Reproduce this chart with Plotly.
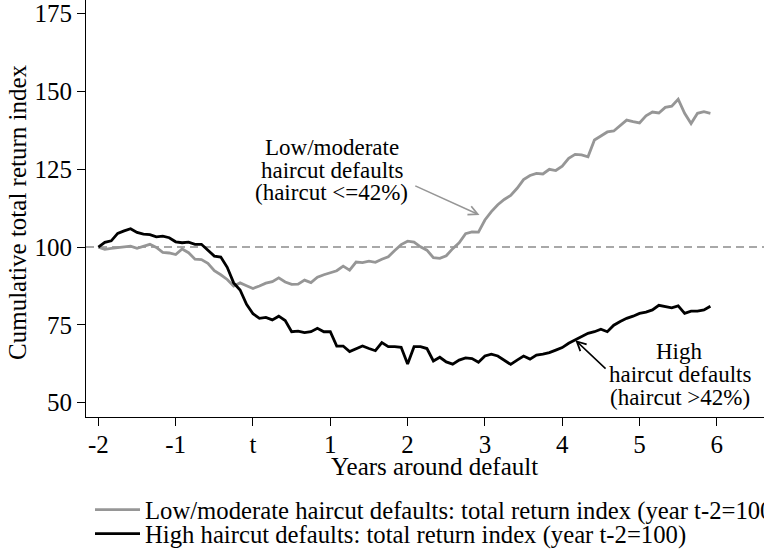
import plotly.graph_objects as go

# monthly observations, year t-2 = 100
years = [-2 + m / 12 for m in range(96)]

low_moderate = [100, 99.3, 99.6, 99.8, 99.9, 100.3, 99.6, 100.3, 100.9, 99.9,
                98.3, 98.1, 97.6, 99.4, 98.2, 96.1, 96.0, 94.8, 92.4, 91.1,
                89.6, 87.5, 88.5, 87.6, 86.7, 87.5, 88.4, 88.9, 90.1, 88.8,
                88.0, 88.1, 89.4, 88.6, 90.3, 91.1, 91.8, 92.4, 93.9, 92.6,
                95.2, 95.0, 95.5, 95.1, 96.1, 96.9, 98.9, 100.8, 101.9, 101.6,
                100.1, 99.0, 96.6, 96.4, 97.2, 99.5, 101.4, 104.3, 104.9, 104.8,
                108.7, 111.4, 113.6, 115.3, 116.6, 118.9, 121.7, 123.0, 123.7, 123.5,
                125.0, 124.6, 126.0, 128.5, 129.8, 129.6, 129.0, 134.4, 135.7, 137.0,
                137.3, 139.2, 140.8, 140.3, 139.9, 142.2, 143.4, 143.1, 144.9, 145.3,
                147.5, 143.0, 139.7, 143.0, 143.5, 143.0]

high = [100, 101.5, 102.0, 104.4, 105.2, 105.9, 104.7, 104.2, 104.0, 103.3,
        103.5, 103.0, 101.7, 101.4, 101.6, 100.9, 100.9, 99.0, 97.1, 96.8,
        93.5, 88.5, 86.2, 81.6, 78.6, 77.1, 77.4, 76.6, 77.8, 76.4,
        72.8, 73.0, 72.5, 72.8, 73.9, 72.8, 72.8, 68.2, 68.2, 66.4,
        67.2, 68.2, 67.4, 66.7, 69.3, 68.0, 68.0, 67.8, 62.4, 68.0,
        68.0, 67.4, 63.4, 64.6, 63.1, 62.4, 63.7, 64.4, 64.2, 63.0,
        65.0, 65.6, 65.0, 63.7, 62.3, 63.7, 65.0, 64.0, 65.3, 65.6,
        66.1, 66.9, 67.7, 69.1, 70.1, 71.3, 72.3, 72.8, 73.6, 72.8,
        74.9, 76.1, 77.1, 77.8, 78.7, 79.1, 79.8, 81.3, 80.9, 80.5,
        81.1, 78.7, 79.4, 79.4, 79.8, 81.0]

tick_vals = [-2, -1, 0, 1, 2, 3, 4, 5, 6]
tick_text = ['-2', '-1', 't', '1', '2', '3', '4', '5', '6']
y_ticks = [50, 75, 100, 125, 150, 175]

FONT = 'Liberation Serif, Times New Roman, serif'
GRAY = '#969696'

fig = go.Figure()

fig.add_trace(go.Scatter(x=years, y=low_moderate, mode='lines',
                         line=dict(color=GRAY, width=2.8),
                         name='Low/moderate haircut defaults: total return index (year t-2=100)',
                         legend='legend'))
fig.add_trace(go.Scatter(x=years, y=high, mode='lines',
                         line=dict(color='black', width=2.8),
                         name='High haircut defaults: total return index (year t-2=100)',
                         legend='legend2'))

# base line at 100
fig.add_hline(y=100, line=dict(color='#a8a8a8', width=2, dash='8px,5px'), layer='below')

# labels next to the lines
for txt, yy in [('Low/moderate', 132.1), ('haircut defaults', 124.7), ('(haircut <=42%)', 117.4)]:
    fig.add_annotation(x=1.02, y=yy, text=txt, showarrow=False,
                       font=dict(family=FONT, size=23, color='black'))
for txt, yy in [('High', 66.5), ('haircut defaults', 59.2), ('(haircut >42%)', 51.7)]:
    fig.add_annotation(x=5.52, y=yy, text=txt, showarrow=False,
                       font=dict(family=FONT, size=23, color='black'))

fig.add_annotation(x=2.93, y=110.3, ax=2.08, ay=119.9, axref='x', ayref='y',
                   text='', showarrow=True, arrowhead=5, arrowsize=1.2,
                   arrowwidth=1.5, arrowcolor=GRAY, standoff=0)
fig.add_annotation(x=4.17, y=70.1, ax=4.58, ay=60.5, axref='x', ayref='y',
                   text='', showarrow=True, arrowhead=5, arrowsize=1.2,
                   arrowwidth=1.5, arrowcolor='black', standoff=0)

# axis titles
fig.add_annotation(x=0.5147, xref='paper', y=-0.1199, yref='paper', text='Years around default',
                   xanchor='center', yanchor='middle', showarrow=False,
                   font=dict(family=FONT, size=25, color='black'))
fig.add_annotation(x=-0.1018, xref='paper', y=0.4916, yref='paper', text='Cumulative total return index',
                   xanchor='center', yanchor='middle', textangle=-90, showarrow=False,
                   font=dict(family=FONT, size=25, color='black'))

fig.update_xaxes(range=[-2.16, 6.61], tickvals=tick_vals, ticktext=tick_text,
                 showline=True, linecolor='black', linewidth=1, ticks='outside',
                 ticklen=8, tickcolor='black', showgrid=False, zeroline=False,
                 ticklabelstandoff=-3,
                 tickfont=dict(family=FONT, size=25, color='black'))
fig.update_yaxes(range=[45.4, 179.4], tickvals=y_ticks,
                 showline=True, linecolor='black', linewidth=1, ticks='outside',
                 ticklen=8, tickcolor='black', showgrid=False, zeroline=False,
                 ticklabeloverflow='allow',
                 tickfont=dict(family=FONT, size=25, color='black'))

fig.update_layout(
    width=764, height=551,
    margin=dict(l=86, r=0, t=0, b=134, autoexpand=False),
    plot_bgcolor='white', paper_bgcolor='white',
    showlegend=True,
    legend=dict(x=0.0059, y=-0.2230, xanchor='left', yanchor='middle',
                font=dict(family=FONT, size=24.7, color='black'),
                bgcolor='rgba(0,0,0,0)', itemwidth=45),
    legend2=dict(x=0.0059, y=-0.2806, xanchor='left', yanchor='middle',
                 font=dict(family=FONT, size=24.7, color='black'),
                 bgcolor='rgba(0,0,0,0)', itemwidth=45),
)

# the page's default body margin would push the figure 8px off
fig.write_html('out.html', config={'displayModeBar': False},
               post_script="document.body.style.margin = '0';")
